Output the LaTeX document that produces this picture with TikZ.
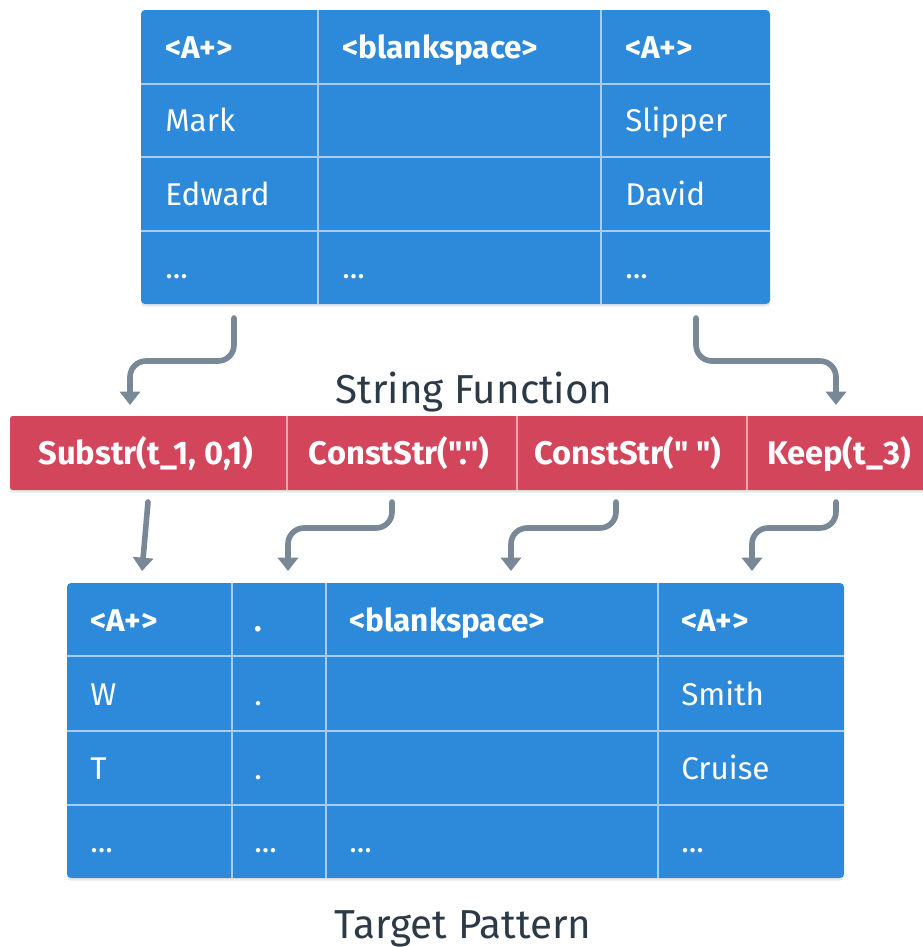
\documentclass[tikz,border=0pt]{standalone}
\usepackage{fontspec}
\setmainfont{Fira Sans}[Ligatures=TeXOff]
\usetikzlibrary{arrows.meta,shadows,calc}
\definecolor{cellblue}{HTML}{2D89D9}
\definecolor{gridblue}{HTML}{A6CDF0}
\definecolor{fnred}{HTML}{D3455B}
\definecolor{gridred}{HTML}{EFA3AE}
\definecolor{arrowgray}{HTML}{788896}
\definecolor{captext}{HTML}{2C3A47}
\begin{document}
\begin{tikzpicture}[x=0.75pt,y=-0.75pt,
  cell/.style={font=\fontsize{23.6}{28}\selectfont, text=white, anchor=base west, inner sep=0pt},
  head/.style={cell, font=\fontsize{23.6}{28}\selectfont\bfseries},
  fn/.style={font=\fontsize{24.5}{28}\selectfont\bfseries, text=white, inner sep=0pt, anchor=base},
  captionlabel/.style={font=\fontsize{30.3}{36}\selectfont, text=captext, inner sep=0pt, anchor=base},
  tablebg/.style={fill=cellblue, rounded corners=3pt, drop shadow={opacity=0.18, shadow xshift=0pt, shadow yshift=-2pt}},
  grid/.style={draw=gridblue, line width=2.2pt},
  redgrid/.style={draw=gridred, line width=1.6pt},
  flow/.style={draw=arrowgray, line width=4.2pt, rounded corners=12pt, line cap=round, -{Triangle[width=15pt,length=10pt]}},
]
\useasboundingbox (0,0) rectangle (923,947);

% ---------- top table ----------
\path[tablebg] (141,10) rectangle (770,304);
\draw[grid] (318,10) -- (318,304) (601,10) -- (601,304)
  (141,84) -- (770,84) (141,157) -- (770,157) (141,231) -- (770,231);
\node[head] (t11) at (165,58) {<A+>};
\node[head] (t12) at (342,58) {<blankspace>};
\node[head] (t13) at (625,58) {<A+>};
\node[cell] (t21) at (165,131) {Mark};
\node[cell] (t23) at (625,131) {Slipper};
\node[cell] (t31) at (165,205) {Edward};
\node[cell] (t33) at (625,205) {David};
\node[cell] (t41) at (165,278) {...};
\node[cell] (t42) at (342,278) {...};
\node[cell] (t43) at (625,278) {...};

% ---------- string function bar ----------
\node[captionlabel] (sfcap) at (474,403) {String Function};
\path[fill=fnred, rounded corners=2pt, drop shadow={opacity=0.18, shadow xshift=0pt, shadow yshift=-2pt}] (10,416) rectangle (930,490);
\draw[redgrid] (287,416) -- (287,490) (517,416) -- (517,490) (747,416) -- (747,490);
\node[fn] (f1) at (146,464) {Substr(t\_1, 0,1)};
\node[fn] (f2) at (399,464) {ConstStr(".")};
\node[fn] (f3) at (628,464) {ConstStr(" ")};
\node[fn] (f4) at (839,464) {Keep(t\_3)};

% ---------- bottom table ----------
\path[tablebg] (67,583) rectangle (844,878);
\draw[grid] (232,583) -- (232,878) (326,583) -- (326,878) (658,583) -- (658,878)
  (67,656) -- (844,656) (67,731) -- (844,731) (67,805) -- (844,805);
\node[head] (b11) at (90,631) {<A+>};
\node[head] (b12) at (254,631) {.};
\node[head] (b13) at (349,631) {<blankspace>};
\node[head] (b14) at (681,631) {<A+>};
\node[cell] (b21) at (90,705) {W};
\node[cell] (b22) at (254,705) {.};
\node[cell] (b24) at (681,705) {Smith};
\node[cell] (b31) at (90,779) {T};
\node[cell] (b32) at (254,779) {.};
\node[cell] (b34) at (681,779) {Cruise};
\node[cell] (b41) at (90,852) {...};
\node[cell] (b42) at (254,852) {...};
\node[cell] (b43) at (349,852) {...};
\node[cell] (b44) at (681,852) {...};
\node[captionlabel] (tpcap) at (463,938) {Target Pattern};

% ---------- connectors ----------
\coordinate (a1s) at (234,318); \coordinate (a1e) at (130,405);
\coordinate (a2s) at (696,318); \coordinate (a2e) at (836,405);
\coordinate (a3s) at (148,502); \coordinate (a3e) at (142,571);
\coordinate (a4s) at (392,502); \coordinate (a4e) at (288,571);
\coordinate (a5s) at (616,502); \coordinate (a5e) at (511,571);
\coordinate (a6s) at (836,502); \coordinate (a6e) at (752,571);
\draw[flow] (a1s) -- ++(0,43) -| (a1e);
\draw[flow] (a2s) -- ++(0,43) -| (a2e);
\draw[flow] (a3s) -- (a3e);
\draw[flow] (a4s) -- ++(0,26) -| (a4e);
\draw[flow] (a5s) -- ++(0,26) -| (a5e);
\draw[flow] (a6s) -- ++(0,26) -| (a6e);
\end{tikzpicture}
\end{document}
